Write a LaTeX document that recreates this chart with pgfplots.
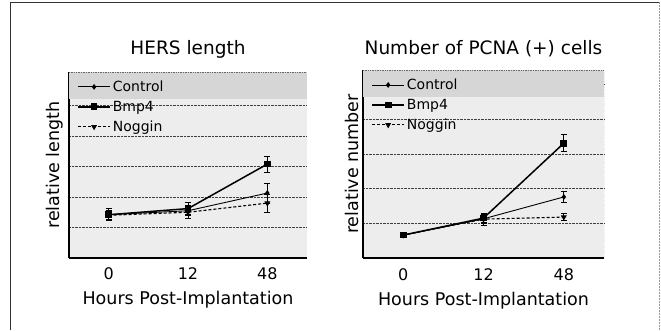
\documentclass[border=0pt]{standalone}
\usepackage{pgfplots}
\pgfplotsset{compat=1.18}
\usepackage{fontspec}
\setmainfont{DejaVu Sans}
\begin{document}
\begin{tikzpicture}
\path[use as bounding box] (0pt,0pt) rectangle (661pt,330pt);
\draw[black!80, line width=0.8pt] (10pt,0pt) -- (10pt,328pt) -- (659pt,328pt);
\draw[black!40, line width=0.5pt, densely dotted] (659pt,328pt) -- (659pt,0pt);
\pgfplotsset{
  common/.style={
    scale only axis,
    anchor=south west,
    xmin=-0.5, xmax=2.5,
    xtick={0,1,2}, xticklabels={0,12,48},
    ytick={1,2,3,4,5}, yticklabels={},
    major tick length=0pt,
    axis x line*=bottom, axis y line*=left,
    axis line style={line width=1.3pt, black},
    ymajorgrids,
    major grid style={densely dotted, black!75, line width=0.7pt},
    axis background/.style={fill=gray!14},
    ticklabel style={font=\fontsize{16}{18}\selectfont},
    xticklabel style={anchor=base, yshift=-21pt},
    label style={font=\fontsize{17.5}{20}\selectfont},
    title style={font=\fontsize{18.5}{21}\selectfont, anchor=base},
    legend cell align=left,
    legend style={draw=none, fill=none, font=\fontsize{14}{16}\selectfont,
      anchor=north west, row sep=4pt, inner xsep=1pt, inner ysep=2pt,
      /tikz/every even column/.append style={column sep=1pt}},
    legend image code/.code={\draw[mark repeat=2,mark phase=2] plot coordinates {(0pt,0pt) (16pt,0pt) (32pt,0pt)};},
  },
  eb/.style={
    error bars/y dir=both, error bars/y explicit,
    error bars/error bar style={line width=0.8pt, solid},
    error bars/error mark options={rotate=90, mark size=3pt, line width=0.8pt, solid},
  },
  ctrl/.style={eb, black, line width=0.9pt, mark=diamond*, mark size=2.2pt, mark options={solid}},
  bmp/.style={eb, black, line width=1.5pt, mark=square*, mark size=2.6pt, mark options={solid}},
  nog/.style={eb, black, line width=1.1pt, densely dashed, mark=triangle*, mark size=2.4pt, mark options={solid, rotate=180}},
}
% Left panel
\begin{axis}[common,
  at={(69pt,72pt)}, width=238pt, height=186pt,
  ymin=0, ymax=6.1,
  title={HERS length},
  title style={at={(axis description cs:0.5,1)}, yshift=12pt},
  ylabel={relative length},
  ylabel style={at={(axis description cs:-0.06,0.5)}, anchor=center},
  xlabel={Hours Post-Implantation},
  xlabel style={at={(axis description cs:0.5,0)}, anchor=base, yshift=-46pt},
  legend style={at={(axis description cs:0.03,0.975)}},
]
\fill[gray!32] (axis cs:-0.5,5.2) rectangle (axis cs:2.5,6.1);
\draw[black!60, densely dotted, line width=0.7pt] (rel axis cs:0,1) -- (rel axis cs:1,1) -- (rel axis cs:1,0);
\addplot[ctrl] coordinates {(0,1.42) +- (0,0.2) (1,1.55) +- (0,0.15) (2,2.13) +- (0,0.33)};
\addlegendentry{Control}
\addplot[bmp] coordinates {(0,1.42) +- (0,0.15) (1,1.62) +- (0,0.2) (2,3.08) +- (0,0.26)};
\addlegendentry{Bmp4}
\addplot[nog] coordinates {(0,1.40) +- (0,0.15) (1,1.50) +- (0,0.2) (2,1.80) +- (0,0.3)};
\addlegendentry{Noggin}
\end{axis}
% Right panel
\begin{axis}[common,
  at={(363pt,72pt)}, width=241pt, height=188pt,
  ymin=0, ymax=5.42,
  title={Number of PCNA (+) cells},
  title style={at={(axis description cs:0.5,1)}, yshift=10pt},
  ylabel={relative number},
  ylabel style={at={(axis description cs:-0.046,0.5)}, anchor=center},
  xlabel={Hours Post-Implantation},
  xlabel style={at={(axis description cs:0.5,0)}, anchor=base, yshift=-47pt},
  xticklabel style={yshift=-1pt},
  legend style={at={(axis description cs:0.03,0.975)}},
]
\fill[gray!32] (axis cs:-0.5,4.64) rectangle (axis cs:2.5,5.42);
\draw[black!60, densely dotted, line width=0.7pt] (rel axis cs:0,1) -- (rel axis cs:1,1) -- (rel axis cs:1,0);
\addplot[ctrl] coordinates {(0,0.66) +- (0,0.08) (1,1.13) +- (0,0.12) (2,1.76) +- (0,0.15)};
\addlegendentry{Control}
\addplot[bmp] coordinates {(0,0.66) +- (0,0.08) (1,1.15) +- (0,0.12) (2,3.31) +- (0,0.25)};
\addlegendentry{Bmp4}
\addplot[nog] coordinates {(0,0.66) +- (0,0.08) (1,1.12) +- (0,0.18) (2,1.18) +- (0,0.1)};
\addlegendentry{Noggin}
\end{axis}
\end{tikzpicture}
\end{document}
